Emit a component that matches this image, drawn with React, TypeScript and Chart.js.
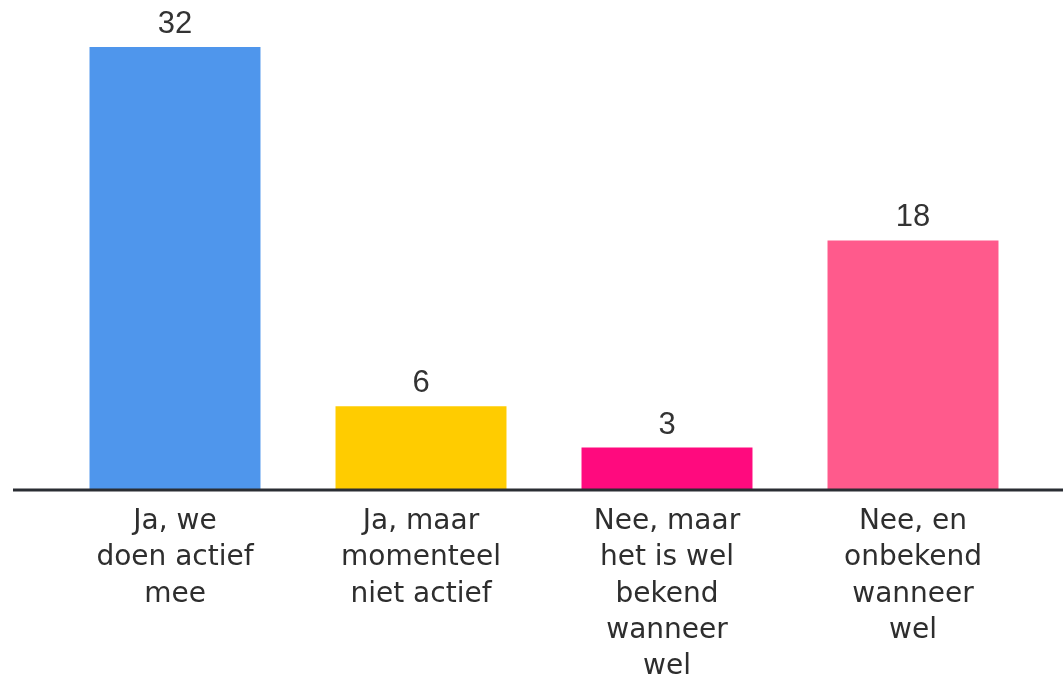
import React, { useEffect, useRef } from "react";
import { Chart, registerables } from "chart.js";

Chart.register(...registerables);

const categories: string[][] = [
  ["Ja, we", "doen actief", "mee"],
  ["Ja, maar", "momenteel", "niet actief"],
  ["Nee, maar", "het is wel", "bekend", "wanneer", "wel"],
  ["Nee, en", "onbekend", "wanneer", "wel"],
];
const values: number[] = [32, 6, 3, 18];
const colors: string[] = ["#4F96EC", "#FFCC00", "#FF0A7E", "#FF5A8C"];

const baselinePlugin = {
  id: "baseline",
  afterDatasetsDraw(chart: any) {
    const ctx = chart.ctx;
    const y = chart.scales.y.getPixelForValue(0);
    ctx.save();
    ctx.strokeStyle = "#2a2d33";
    ctx.lineWidth = 3;
    ctx.beginPath();
    ctx.moveTo(13, y + 1);
    ctx.lineTo(chart.width, y + 1);
    ctx.stroke();
    ctx.restore();
  },
};

const valueLabelPlugin = {
  id: "valueLabels",
  afterDatasetsDraw(chart: any) {
    const ctx = chart.ctx;
    const meta = chart.getDatasetMeta(0);
    ctx.save();
    ctx.fillStyle = "#333333";
    ctx.font = "31px 'Liberation Sans', Arial, sans-serif";
    ctx.textAlign = "center";
    ctx.textBaseline = "alphabetic";
    meta.data.forEach((bar: any, i: number) => {
      ctx.fillText(String(values[i]), bar.x, bar.y - 14);
    });
    ctx.restore();
  },
};

export default function App() {
  const ref = useRef<HTMLCanvasElement | null>(null);
  useEffect(() => {
    if (!ref.current) return;
    const chart = new Chart(ref.current, {
      type: "bar",
      data: {
        labels: categories,
        datasets: [
          {
            data: values,
            backgroundColor: colors,
            borderWidth: 0,
            categoryPercentage: 1,
            barPercentage: 0.695,
          },
        ],
      },
      options: {
        animation: false,
        responsive: false,
        maintainAspectRatio: false,
        layout: { padding: { left: 52, right: 27, top: 47, bottom: 0 } },
        plugins: { legend: { display: false }, tooltip: { enabled: false } },
        scales: {
          x: {
            grid: { display: false },
            border: { display: false },
            ticks: {
              color: "#2e2e2e",
              font: { family: "'DejaVu Sans', 'Noto Sans', sans-serif", size: 28, lineHeight: 1.29 },
              padding: 7,
              maxRotation: 0,
              autoSkip: false,
            },
            afterFit(scale: any) {
              scale.height = 188;
            },
          },
          y: {
            display: false,
            min: 0,
            max: 32,
          },
        },
      },
      plugins: [baselinePlugin, valueLabelPlugin],
    });
    return () => chart.destroy();
  }, []);
  return (
    <div style={{ position: "fixed", left: 0, top: 0, width: 1063, height: 677, background: "#fff" }}>
      <canvas ref={ref} width={1063} height={677} style={{ width: 1063, height: 677 }} />
    </div>
  );
}
